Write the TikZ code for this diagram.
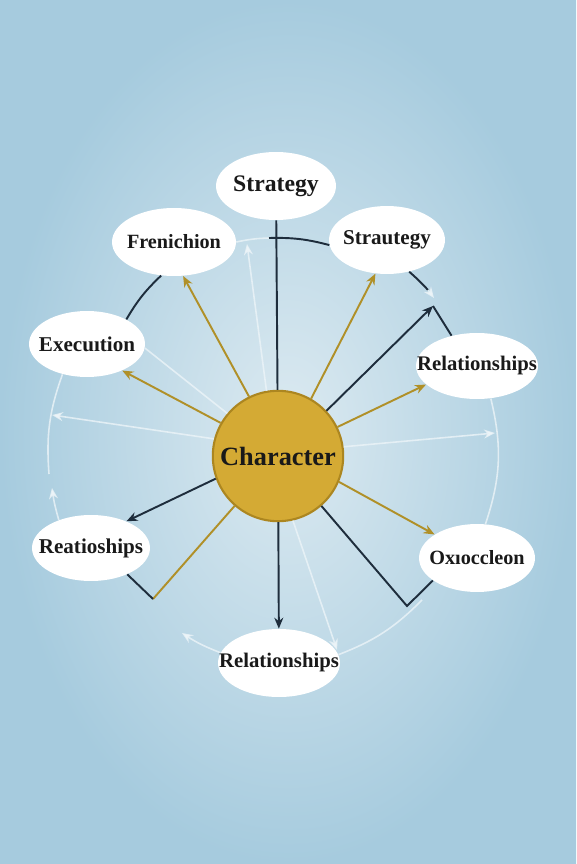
\documentclass[tikz,border=0pt]{standalone}
\usepackage{fontspec}
\setmainfont{Liberation Serif}
\usetikzlibrary{shapes.geometric,arrows.meta}
\definecolor{bgin}{RGB}{220,234,241}
\definecolor{bgout}{RGB}{166,203,222}
\definecolor{goldfill}{RGB}{212,170,52}
\definecolor{goldedge}{RGB}{172,134,32}
\definecolor{goldline}{RGB}{176,144,40}
\definecolor{darkline}{RGB}{30,45,60}
\definecolor{paleline}{RGB}{236,244,248}

\begin{document}
\begin{tikzpicture}[x=0.02cm, y=-0.02cm,
  every node/.style={font=\bfseries\fontsize{12}{14}\selectfont, text=black!90},
  bubble/.style={ellipse, fill=white, inner sep=0pt, minimum width=2.36cm, minimum height=1.34cm},
  dk/.style={draw=darkline, line width=1.1pt},
  gd/.style={draw=goldline, line width=1.1pt},
  pl/.style={draw=paleline, line width=0.9pt, draw opacity=0.8},
  arr/.style={-{Stealth[length=2.2mm,width=1.8mm]}}]
  % background
  \shade[inner color=bgin, outer color=bgout] (0,0) rectangle (576,864);

  % hub and bubbles
  \node[circle, fill=goldfill, draw=goldedge, line width=1.2pt, minimum size=2.48cm,
        font=\bfseries\fontsize{15}{18}\selectfont] (char) at (278,456) {Character};
  \node[bubble, minimum width=2.4cm, minimum height=1.36cm,
        font=\bfseries\fontsize{13.5}{16}\selectfont] (strat) at (276,186) {\makebox[0pt]{Strategy}};
  \node[bubble, minimum width=2.48cm, minimum height=1.36cm,
        font=\bfseries\fontsize{11.5}{14}\selectfont] (fren) at (174,242) {\makebox[0pt]{Frenichion}};
  \node[bubble, minimum width=2.32cm, minimum height=1.36cm] (straut) at (387,240) {\makebox[0pt]{Strautegy}};
  \node[bubble, minimum width=2.32cm, minimum height=1.32cm] (exec) at (87,344) {\makebox[0pt]{Execuıtion}};
  \node[bubble, minimum width=2.44cm, minimum height=1.32cm,
        font=\bfseries\fontsize{11.8}{14}\selectfont] (relR) at (477,366) {\makebox[0pt]{Relationships}};
  \node[bubble, minimum width=2.36cm, minimum height=1.32cm] (reat) at (91,548) {\makebox[0pt]{Reatioships}};
  \node[bubble, minimum width=2.32cm, minimum height=1.36cm,
        font=\bfseries\fontsize{11.5}{14}\selectfont] (oxio) at (477,558) {\makebox[0pt]{Oxıoccleon}};
  \node[bubble, minimum width=2.44cm, minimum height=1.36cm,
        font=\bfseries\fontsize{11.8}{14}\selectfont] (relB) at (279,663) {\makebox[0pt]{Relationships}};

  % loose ends on the ring
  \coordinate (ringA) at (247,244);
  \coordinate (ringB) at (433,306);
  \coordinate (ringC) at (495,433);
  \coordinate (ringD) at (52,415);
  \coordinate (ringE) at (337,650);
  \coordinate (ringF) at (182,633);
  \coordinate (ringG) at (52,488);
  \coordinate (ringH) at (428,290);
  \coordinate (ringI) at (434,298);
  \coordinate (ringJ) at (49,474);
  \coordinate (ringK) at (422,600);
  \coordinate (topA) at (269,238);
  \coordinate (kneeL) at (153,599);
  \coordinate (kneeR) at (407,606);

  % ring pieces
  \draw[pl] (fren.east) to[bend left=5] (topA);
  \draw[dk] (topA) to[bend left=8] (straut.185);
  \draw[dk] (fren.-111) to[bend right=8] (exec.32);
  \draw[dk] (straut.-55) to[bend left=3] (ringH);
  \draw[pl, arr] (ringH) -- (ringI);
  \draw[dk] (ringB) -- (relR.130);
  \draw[pl] (exec.-129) to[bend right=12] (ringJ);
  \draw[pl, arr] (reat.139) to[bend left=4] (ringG);
  \draw[pl] (relR.-67) to[bend left=16] (oxio.76);
  \draw[pl] (ringK) to[bend left=12] (relB.8);
  \draw[pl, arr] (relB.170) to[bend left=6] (ringF);

  % spokes
  \draw[dk] (char) -- (strat);
  \draw[gd, arr] (char.116) -- (fren.-75);
  \draw[pl, arr] (char.100) -- (ringA);
  \draw[gd, arr] (char.150) -- (exec.-37);
  \draw[pl] (exec.-4) -- (char.140);
  \draw[pl, arr] (char.165) -- (ringD);
  \draw[gd, arr] (char.60) -- (straut.-109);
  \draw[dk, arr] (char.43) -- (ringB);
  \draw[gd, arr] (char.26) -- (relR.-160);
  \draw[pl, arr] (char.8) -- (ringC);
  \draw[gd, arr] (char.-23) -- (oxio.151);
  \draw[dk] (char.-49) -- (kneeR) -- (oxio.-153);
  \draw[pl, arr] (char.-77) -- (ringE);
  \draw[dk, arr] (char) -- (relB);
  \draw[gd] (char.-131) -- (kneeL);
  \draw[dk] (kneeL) -- (reat.-36);
  \draw[dk, arr] (char.-160) -- (reat.37);
\end{tikzpicture}
\end{document}
